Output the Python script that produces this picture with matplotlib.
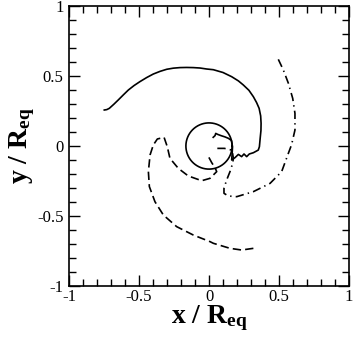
import numpy as np
import matplotlib
matplotlib.use("Agg")
import matplotlib.pyplot as plt

plt.rcParams['font.family'] = ['Liberation Serif', 'DejaVu Serif']
plt.rcParams['mathtext.fontset'] = 'custom'
plt.rcParams['mathtext.rm'] = 'Liberation Serif:bold'
plt.rcParams['mathtext.bf'] = 'Liberation Serif:bold'
plt.rcParams['mathtext.default'] = 'bf'
plt.rcParams['lines.scale_dashes'] = False

# solid trajectory
solid_x = [-0.748, -0.730, -0.712, -0.680, -0.648, -0.612, -0.576, -0.535, -0.493, -0.445, -0.398,
           -0.350, -0.302, -0.255, -0.207, -0.160, -0.112, -0.064, -0.017,
           0.031, 0.100, 0.162, 0.210, 0.245, 0.285, 0.317, 0.340, 0.358, 0.369, 0.372, 0.371, 0.366, 0.360,
           0.352, 0.317, 0.288, 0.269, 0.250, 0.233, 0.210, 0.186, 0.162,
           0.165, 0.168, 0.160, 0.138, 0.114, 0.086, 0.062, 0.048, 0.043, 0.030]
solid_y = [0.257, 0.260, 0.269, 0.298, 0.329, 0.365, 0.400, 0.432, 0.460, 0.489, 0.514,
           0.533, 0.548, 0.556, 0.560, 0.561, 0.560, 0.557, 0.550,
           0.545, 0.525, 0.495, 0.465, 0.436, 0.398, 0.352, 0.310, 0.269, 0.215, 0.162, 0.110, 0.060, -0.005,
           -0.029, -0.048, -0.057, -0.076, -0.057, -0.076, -0.060, -0.083, -0.100,
           -0.060, -0.005, 0.040, 0.055, 0.065, 0.074, 0.083, 0.090, 0.074, 0.062]

# dashed trajectory
dashed_x = [0.317, 0.233, 0.150, 0.031, 0.007, -0.112, -0.231, -0.326, -0.386, -0.426,
            -0.433, -0.421, -0.398, -0.369, -0.321, -0.298, -0.279, -0.219, -0.148,
            -0.052, 0.007, 0.055, 0.043, 0.020, -0.007]
dashed_y = [-0.731, -0.743, -0.731, -0.695, -0.683, -0.636, -0.576, -0.493, -0.398, -0.290,
            -0.183, -0.064, 0.007, 0.050, 0.062, -0.005, -0.088, -0.160, -0.214,
            -0.248, -0.231, -0.183, -0.155, -0.120, -0.070]

# dash-dot trajectory
dashdot_x = [0.495, 0.531, 0.567, 0.598, 0.614, 0.614, 0.590, 0.567, 0.519, 0.436,
             0.317, 0.198, 0.138, 0.107, 0.107, 0.126, 0.150, 0.169, 0.174,
             0.165, 0.110, 0.055]
dashdot_y = [0.619, 0.543, 0.448, 0.340, 0.233, 0.114, 0.010, -0.052, -0.183, -0.267,
             -0.326, -0.362, -0.357, -0.338, -0.302, -0.243, -0.183, -0.124, -0.088,
             -0.030, -0.017, -0.017]

circle_r = 0.165

ticks = [-1, -0.5, 0, 0.5, 1]
tick_labels = ['-1', '-0.5', '0', '0.5', '1']

fig = plt.figure(figsize=(3.54, 3.43), dpi=100)
ax = fig.add_axes([69/354, 1-286/343, 280/354, 280/343])

lw = 1.2
ax.plot(solid_x, solid_y, color='black', lw=lw)
ax.plot(dashed_x, dashed_y, color='black', lw=lw, dashes=(6, 3))
ax.plot(dashdot_x, dashdot_y, color='black', lw=lw, dashes=(6, 3, 1, 3))
th = np.linspace(0, 2*np.pi, 200)
ax.plot(circle_r*np.cos(th), circle_r*np.sin(th), color='black', lw=lw)

ax.set_xlim(-1, 1)
ax.set_ylim(-1, 1)
ax.set_xticks(ticks)
ax.set_xticklabels(tick_labels)
ax.set_yticks(ticks)
ax.set_yticklabels(tick_labels)
ax.set_xticks(np.arange(-1, 1.01, 0.1), minor=True)
ax.set_yticks(np.arange(-1, 1.01, 0.1), minor=True)
ax.tick_params(which='both', direction='in', top=True, right=True, labelsize=12, width=1)
ax.tick_params(axis='x', which='both', pad=2)
ax.tick_params(axis='y', which='both', pad=4)
ax.tick_params(which='major', length=8)
ax.tick_params(which='minor', length=5)
for s in ax.spines.values():
    s.set_linewidth(1.2)

ax.set_xlabel('x / R$_{eq}$', fontsize=20, fontweight='bold', labelpad=-1)
ax.set_ylabel('y / R$_{eq}$', fontsize=20, fontweight='bold', labelpad=0)

fig.savefig('out.png', dpi=100)
